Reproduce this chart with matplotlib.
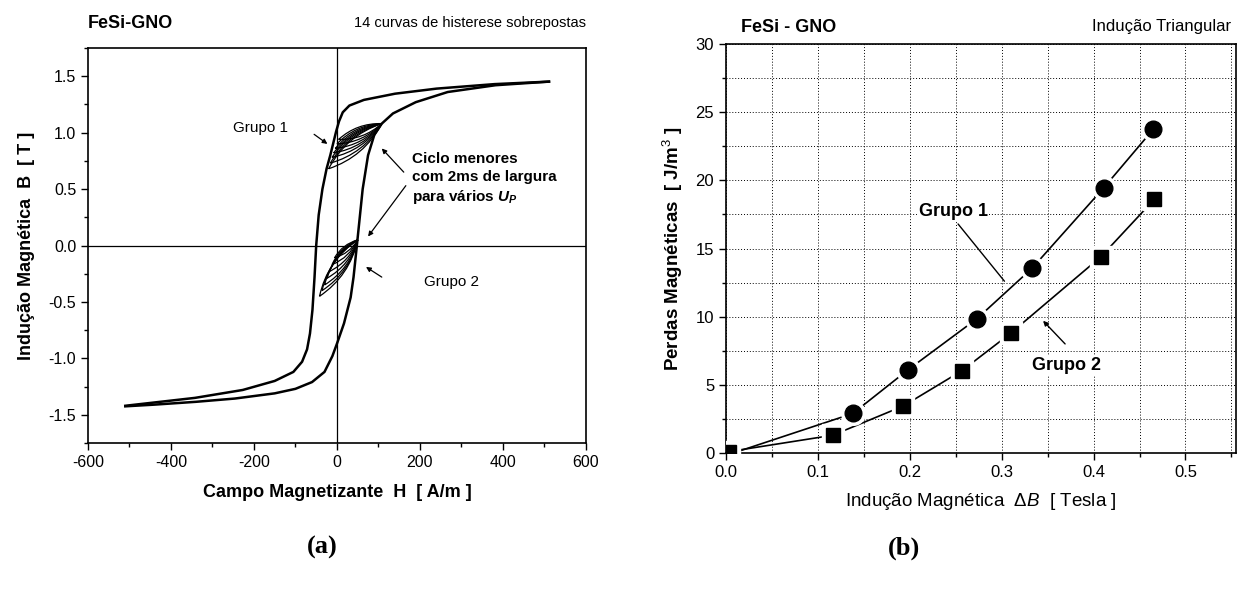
import numpy as np
import matplotlib
matplotlib.use('Agg')
import matplotlib.pyplot as plt
from matplotlib.path import Path
from matplotlib.patches import PathPatch
from matplotlib.ticker import MultipleLocator

plt.rcParams['font.family'] = ['Liberation Sans', 'DejaVu Sans']
plt.rcParams['axes.unicode_minus'] = False
plt.rcParams['mathtext.fontset'] = 'custom'
plt.rcParams['mathtext.rm'] = 'Liberation Sans'
plt.rcParams['mathtext.it'] = 'Liberation Sans:italic'
plt.rcParams['mathtext.bf'] = 'Liberation Sans:bold'
plt.rcParams['mathtext.bfit'] = 'Liberation Sans:italic:bold'

# (a) laço de histerese maior - ramo descendente
h_desc = [511, 380, 240, 140, 65, 30, 14, 5, -2, -8, -16, -25, -35, -44, -50, -54, -59,
          -65, -72, -84, -105, -150, -227, -342, -438, -510]
b_desc = [1.452, 1.43, 1.39, 1.345, 1.29, 1.24, 1.18, 1.10, 1.01, 0.92, 0.80, 0.68, 0.50,
          0.27, 0.0, -0.28, -0.57, -0.78, -0.92, -1.03, -1.12, -1.20, -1.28, -1.35, -1.39, -1.42]
# ramo ascendente
h_asc = [-510, -440, -340, -246, -150, -100, -60, -30, -11, 0, 17, 33, 40, 48, 55, 62, 75,
         90, 108, 135, 190, 267, 382, 511]
b_asc = [-1.425, -1.41, -1.385, -1.356, -1.31, -1.27, -1.21, -1.12, -0.98, -0.87, -0.69,
         -0.46, -0.28, 0.0, 0.25, 0.50, 0.80, 0.98, 1.08, 1.17, 1.27, 1.36, 1.42, 1.452]

# ciclos menores (ponta comum + extremos inferiores)
g1_tip = (108, 1.08)
g1_h = [-20, -16, -12, -8, -4, 0, 4]
g1_b = [0.68, 0.73, 0.78, 0.82, 0.86, 0.90, 0.94]
g2_tip = (50, 0.05)
g2_h = [-42, -36, -30, -24, -18, -12, -6]
g2_b = [-0.45, -0.40, -0.35, -0.29, -0.23, -0.17, -0.11]

# (b) perdas x delta B
db_g1 = [0.008, 0.138, 0.198, 0.273, 0.333, 0.411, 0.465]
w_g1 = [0.0, 2.9, 6.1, 9.85, 13.55, 19.45, 23.75]
db_g2 = [0.003, 0.116, 0.193, 0.257, 0.31, 0.408, 0.466]
w_g2 = [0.1, 1.3, 3.45, 6.05, 8.8, 14.4, 18.6]

fig = plt.figure(figsize=(12.39, 5.91), dpi=100)
ax1 = fig.add_axes([0.0710, 0.2504, 0.4019, 0.6684])
ax2 = fig.add_axes([0.5860, 0.2335, 0.4116, 0.6920])

# ---------- (a)
ax1.set_xlim(-600, 600)
ax1.set_ylim(-1.75, 1.75)
ax1.axhline(0, color='k', lw=0.9)
ax1.axvline(0, color='k', lw=0.9)
ax1.plot(h_desc, b_desc, color='k', lw=1.8)
ax1.plot(h_asc, b_asc, color='k', lw=1.8)


def lente(ax, p0, p1, k=0.2):
    tr = ax.transData
    a = tr.transform(p0)
    b = tr.transform(p1)
    d = b - a
    n = np.array([-d[1], d[0]])
    inv = tr.inverted()
    c_up = inv.transform((a + b) / 2 + n * k)
    c_dn = inv.transform((a + b) / 2 - n * k)
    verts = [p0, c_up, p1, c_dn, p0]
    codes = [Path.MOVETO, Path.CURVE3, Path.CURVE3, Path.CURVE3, Path.CURVE3]
    ax.add_patch(PathPatch(Path(verts, codes), fc='none', ec='k', lw=0.9))


for h, b in zip(g1_h, g1_b):
    lente(ax1, (h, b), g1_tip)
for h, b in zip(g2_h, g2_b):
    lente(ax1, (h, b), g2_tip)

ax1.xaxis.set_major_locator(MultipleLocator(200))
ax1.xaxis.set_minor_locator(MultipleLocator(100))
ax1.yaxis.set_major_locator(MultipleLocator(0.5))
ax1.yaxis.set_minor_locator(MultipleLocator(0.25))
ax1.tick_params(which='major', direction='out', length=5, width=1, labelsize=11.5)
ax1.tick_params(which='minor', direction='out', length=3, width=1)
ax1.yaxis.set_major_formatter(lambda v, p: f'{v:.1f}')
for s in ax1.spines.values():
    s.set_linewidth(1.2)
ax1.set_xlabel('Campo Magnetizante  H  [ A/m ]', fontsize=13, fontweight='bold', labelpad=10)
ax1.set_ylabel('Indução Magnética  B  [ T ]', fontsize=13, fontweight='bold', labelpad=10)
ax1.text(0.0, 1.04, 'FeSi-GNO', transform=ax1.transAxes, fontsize=13, fontweight='bold',
         ha='left', va='bottom')
ax1.text(1.0, 1.045, '14 curvas de histerese sobrepostas', transform=ax1.transAxes,
         fontsize=10.5, ha='right', va='bottom')

arr = dict(arrowstyle='-|>', color='k', lw=0.9, mutation_scale=7, shrinkA=0, shrinkB=0)
ax1.text(-184, 1.04, 'Grupo 1', fontsize=11, ha='center', va='center')
ax1.annotate('', xy=(-23, 0.90), xytext=(-55, 0.985), arrowprops=arr)
ax1.text(180, 0.59, 'Ciclo menores\ncom 2ms de largura\npara vários $\\mathbfit{U}_{\\mathbfit{P}}$',
         fontsize=11, fontweight='bold', ha='left', va='center', linespacing=1.35)
ax1.annotate('', xy=(108, 0.86), xytext=(161, 0.65), arrowprops=arr)
ax1.annotate('', xy=(75, 0.08), xytext=(166, 0.53), arrowprops=arr)
ax1.text(209, -0.32, 'Grupo 2', fontsize=11, ha='left', va='center')
ax1.annotate('', xy=(70, -0.19), xytext=(108, -0.28), arrowprops=arr)

# ---------- (b)
ax2.set_xlim(0, 0.555)
ax2.set_ylim(0, 30)
ax2.xaxis.set_major_locator(MultipleLocator(0.1))
ax2.xaxis.set_minor_locator(MultipleLocator(0.05))
ax2.yaxis.set_major_locator(MultipleLocator(5))
ax2.yaxis.set_minor_locator(MultipleLocator(2.5))
ax2.grid(which='both', linestyle=(0, (1, 2)), color='k', lw=0.7)
ax2.set_axisbelow(True)
ax2.tick_params(which='major', direction='out', length=5, width=1, labelsize=12)
ax2.tick_params(which='minor', direction='out', length=3, width=1)
ax2.xaxis.set_major_formatter(lambda v, p: f'{v:.1f}')
for s in ax2.spines.values():
    s.set_linewidth(1.2)

ax2.plot(db_g1, w_g1, color='k', lw=1.2, zorder=3)
ax2.plot(db_g2, w_g2, color='k', lw=1.2, zorder=3)
ax2.plot(db_g1[1:], w_g1[1:], 'o', ms=17, color='white', zorder=4)
ax2.plot(db_g2, w_g2, 's', ms=16, color='white', zorder=4)
ax2.plot(db_g1[1:], w_g1[1:], 'o', ms=12, color='k', zorder=5)
ax2.plot(db_g2, w_g2, 's', ms=10.5, color='k', zorder=5)

ax2.set_xlabel('Indução Magnética  $\\mathit{\\Delta B}$  [ Tesla ]', fontsize=13.5, labelpad=8)
ax2.set_ylabel('Perdas Magnéticas  [ J/m$^3$ ]', fontsize=13.5, fontweight='bold', labelpad=8)
ax2.text(0.03, 1.02, 'FeSi - GNO', transform=ax2.transAxes, fontsize=13, fontweight='bold',
         ha='left', va='bottom')
ax2.text(0.99, 1.025, 'Indução Triangular', transform=ax2.transAxes, fontsize=12,
         ha='right', va='bottom')

arr2 = dict(arrowstyle='-', color='k', lw=1.0, shrinkA=0, shrinkB=0)
ax2.text(0.247, 17.7, 'Grupo 1', fontsize=13, fontweight='bold', ha='center', va='center',
         bbox=dict(fc='white', ec='none', pad=1))
ax2.annotate('', xy=(0.303, 12.6), xytext=(0.2525, 16.8), arrowprops=arr2)
ax2.text(0.37, 6.4, 'Grupo 2', fontsize=13, fontweight='bold', ha='center', va='center',
         bbox=dict(fc='white', ec='none', pad=1))
ax2.annotate('', xy=(0.345, 9.7), xytext=(0.369, 8.0),
             arrowprops=dict(arrowstyle='-|>', color='k', lw=1.0, mutation_scale=7,
                             shrinkA=0, shrinkB=0))

fig.text(0.26, 0.073, '(a)', fontsize=19, fontweight='bold', family='Liberation Serif',
         ha='center', va='center')
fig.text(0.730, 0.073, '(b)', fontsize=19, fontweight='bold', family='Liberation Serif',
         ha='center', va='center')

fig.savefig('out.png', dpi=100)
